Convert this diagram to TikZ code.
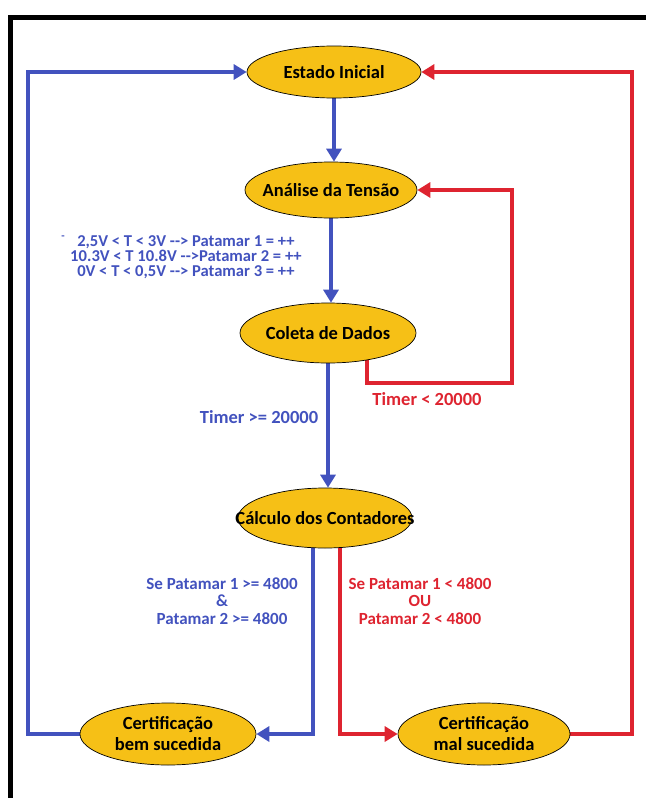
\documentclass[tikz,border=0pt]{standalone}
\usepackage{fontspec}
\setmainfont{Carlito}
\usetikzlibrary{shapes.geometric,arrows.meta,backgrounds}
\definecolor{flowblue}{RGB}{66,82,190}
\definecolor{flowred}{RGB}{222,36,48}
\definecolor{stategold}{RGB}{246,192,22}
\tikzset{
  state/.style={ellipse, draw=black, line width=0.7pt, fill=stategold, inner sep=0pt},
  statetext/.style={font=\fontsize{18.5}{21}\selectfont\bfseries, align=center, text=black},
  bluearrow/.style={draw=flowblue, line width=3.6pt, -{Triangle[length=13pt,width=15pt]}},
  redarrow/.style={draw=flowred, line width=3.6pt, -{Triangle[length=13pt,width=15pt]}},
  bluelbl/.style={text=flowblue, font=\fontsize{17}{17.5}\selectfont\bfseries, align=center},
  redlbl/.style={text=flowred, font=\fontsize{17}{17.5}\selectfont\bfseries, align=center},
}
\begin{document}
\begin{tikzpicture}[x=1pt,y=-1pt]
\useasboundingbox (0,0) rectangle (646,798);
% outer frame (left and top edges)
\draw[line width=5pt] (10,798) -- (10,17) -- (646,17);

% states
\node[state, minimum width=174pt, minimum height=52pt] (init) at (334,72) {};
\node[statetext] (initT) at (init) {Estado Inicial};
\node[state, minimum width=172pt, minimum height=56pt] (anal) at (331,190) {};
\node[statetext] (analT) at (anal) {Análise da Tensão};
\node[state, minimum width=176pt, minimum height=60pt] (coleta) at (328,333) {};
\node[statetext] (coletaT) at (coleta) {Coleta de Dados};
\node[state, minimum width=174pt, minimum height=60pt] (calc) at (325,518) {};
\node[statetext] (calcT) at (calc) {Cálculo dos Contadores};
\node[state, minimum width=176pt, minimum height=62pt] (bem) at (168,734) {};
\node[statetext] (bemT) at (bem) {Certificação\\bem sucedida};
\node[state, minimum width=172pt, minimum height=62pt] (mal) at (484,734) {};
\node[statetext] (malT) at (mal) {Certificação\\mal sucedida};

% turning points of the return paths
\coordinate (ltop) at (28,72);
\coordinate (rtop) at (632,72);
\coordinate (loopA) at (367,383);
\coordinate (loopB) at (512,383);
\coordinate (loopC) at (512,190);
\coordinate (okStart) at (313,518);
\coordinate (failStart) at (340,518);

\begin{scope}[on background layer]
  % main sequence
  \draw[bluearrow] (init.south) -- (init.south |- anal.north);
  \draw[bluearrow] (anal.south) -- (anal.south |- coleta.north);
  \draw[bluearrow] (coleta.south) -- (coleta.south |- calc.north);
  % timer loop back to voltage analysis
  \draw[redarrow] (loopA |- coleta.center) -- (loopA) -- (loopB) -- (loopC) -- (anal.east);
  % outcome branches
  \draw[bluearrow] (okStart) |- (bem.east);
  \draw[redarrow] (failStart) |- (mal.west);
  % back to the initial state
  \draw[bluearrow] (bem.west) -| (ltop) -- (init.west);
  \draw[redarrow] (mal.east) -| (rtop) -- (init.east);
\end{scope}

% condition labels
\node[text=flowblue, font=\fontsize{11}{11}\selectfont\bfseries] (voltDot) at (63,238) {-};
\node[bluelbl, font=\fontsize{16.6}{15}\selectfont\bfseries] (voltLbl) at (186,257)
  {2,5V < T < 3V -{}-> Patamar 1 = ++\\
   10.3V < T 10.8V -{}->Patamar 2 = ++\\
   0V < T < 0,5V -{}-> Patamar 3 = ++};
\node[bluelbl, font=\fontsize{18.5}{20}\selectfont\bfseries] (timerOk) at (259,417) {Timer >= 20000};
\node[redlbl, font=\fontsize{18.5}{20}\selectfont\bfseries] (timerLow) at (427,399) {Timer < 20000};
\node[bluelbl] (okLbl) at (222,601) {Se Patamar 1 >= 4800\\\&\\Patamar 2 >= 4800};
\node[redlbl] (failLbl) at (420,601) {Se Patamar 1 < 4800\\OU\\Patamar 2 < 4800};
\end{tikzpicture}
\end{document}
